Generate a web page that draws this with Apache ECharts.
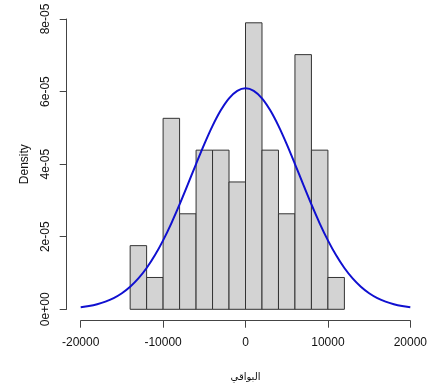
<!DOCTYPE html>
<html>
<head>
<meta charset="utf-8">
<script src="https://cdn.jsdelivr.net/npm/echarts@6/dist/echarts.min.js"></script>
<style>html,body{margin:0;padding:0;background:#fff}#c{width:430px;height:390px}</style>
</head>
<body>
<div id="c"></div>
<script>
const binStarts = [-14000,-12000,-10000,-8000,-6000,-4000,-2000,0,2000,4000,6000,8000,10000];
const binWidth = 2000;
const densities = [1.754e-5,0.877e-5,5.263e-5,2.632e-5,4.386e-5,4.386e-5,3.509e-5,7.895e-5,4.386e-5,2.632e-5,7.018e-5,4.386e-5,0.877e-5];
const curveX = [-20000,-19000,-18000,-17000,-16000,-15000,-14000,-13000,-12000,-11000,-10000,-9000,-8000,-7000,-6000,-5000,-4000,-3000,-2000,-1000,0,1000,2000,3000,4000,5000,6000,7000,8000,9000,10000,11000,12000,13000,14000,15000,16000,17000,18000,19000,20000];
const curveY = [0.0576,0.0907,0.140,0.210,0.308,0.442,0.620,0.850,1.137,1.487,1.899,2.370,2.889,3.441,4.004,4.552,5.055,5.484,5.814,6.020,6.091,6.020,5.814,5.484,5.055,4.552,4.004,3.441,2.889,2.370,1.899,1.487,1.137,0.850,0.620,0.442,0.308,0.210,0.140,0.0907,0.0576];
const xTickLabels = ['-20000','-10000','0','10000','20000'];
const yTickLabels = ['0e+00','2e-05','4e-05','6e-05','8e-05'];
const xTitle = 'البواقي';
const yTitle = 'Density';

const histData = binStarts.map((s,i)=>[s, s+binWidth, densities[i]]);
const lineData = curveX.map((x,i)=>[x, curveY[i]*1e-5]);
const font = 'Liberation Sans, Arial, sans-serif';
const axisColor = '#444';

const chart = echarts.init(document.getElementById('c'), null, {renderer:'canvas'});
chart.setOption({
  animation:false,
  backgroundColor:'#fff',
  grid:{left:80.7, right:18.7, top:19, bottom:80.7, containLabel:false},
  xAxis:{
    type:'value', min:-20000, max:20000, interval:10000,
    offset:11.4,
    axisLine:{show:true, onZero:false, lineStyle:{color:axisColor, width:1}},
    axisTick:{show:true, length:7, lineStyle:{color:axisColor}},
    splitLine:{show:false},
    axisLabel:{fontFamily:font, fontSize:12, color:'#111', margin:16,
      formatter:(v)=>xTickLabels[Math.round((v+20000)/10000)]},
    name:xTitle, nameLocation:'middle', nameGap:52,
    nameTextStyle:{fontFamily:'DejaVu Sans, sans-serif', fontSize:10, color:'#111'}
  },
  yAxis:{
    type:'value', min:0, max:8e-5, interval:2e-5,
    offset:14,
    axisLine:{show:true, onZero:false, lineStyle:{color:axisColor, width:1}},
    axisTick:{show:true, length:7, lineStyle:{color:axisColor}},
    splitLine:{show:false},
    axisLabel:{fontFamily:font, fontSize:12, color:'#111', rotate:90, margin:15,
      align:'center', verticalAlign:'bottom',
      formatter:(v)=>yTickLabels[Math.round(v/2e-5)]},
    name:yTitle, nameLocation:'middle', nameGap:36,
    nameTextStyle:{fontFamily:font, fontSize:12, color:'#111'}
  },
  series:[
    {
      type:'custom',
      data:histData,
      encode:{x:[0,1], y:2},
      renderItem:function(params, api){
        const a = api.coord([api.value(0), 0]);
        const b = api.coord([api.value(1), api.value(2)]);
        return {type:'rect', shape:{x:a[0], y:b[1], width:b[0]-a[0], height:a[1]-b[1]},
          style:{fill:'#d3d3d3', stroke:'#333', lineWidth:1}};
      },
      z:1
    },
    {
      type:'line', data:lineData, showSymbol:false, smooth:0.3,
      lineStyle:{color:'#1010d0', width:2}, z:2
    }
  ]
});
</script>
</body>
</html>
